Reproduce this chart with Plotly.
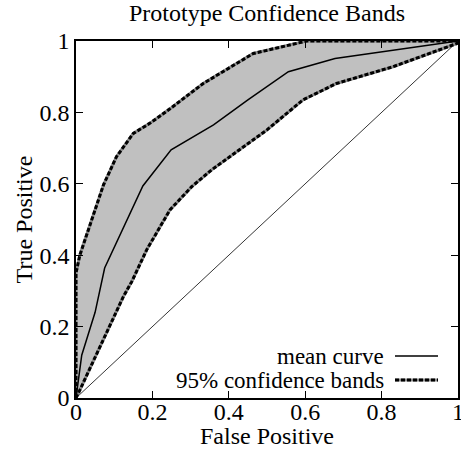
import plotly.graph_objects as go

# Mean ROC curve
mean_fp = [0.0, 0.015, 0.05, 0.075, 0.175, 0.249, 0.36, 0.45, 0.556, 0.678, 1.0]
mean_tp = [0.0, 0.12, 0.24, 0.364, 0.594, 0.695, 0.765, 0.835, 0.914, 0.951, 1.0]

# Upper 95% band
upper_fp = [0.0, 0.0, 0.01, 0.045, 0.072, 0.106, 0.15, 0.194, 0.246, 0.333, 0.464, 0.604, 1.0]
upper_tp = [0.0, 0.35, 0.40, 0.508, 0.597, 0.676, 0.741, 0.77, 0.81, 0.881, 0.965, 1.0, 1.0]

# Lower 95% band
lower_fp = [0.0, 0.01, 0.124, 0.146, 0.185, 0.246, 0.303, 0.355, 0.5, 0.594, 0.682, 0.83, 0.997, 1.0]
lower_tp = [0.0, 0.022, 0.284, 0.326, 0.415, 0.527, 0.592, 0.639, 0.751, 0.835, 0.881, 0.928, 0.993, 1.0]

diag = [0.0, 1.0]
ticks = [0, 0.2, 0.4, 0.6, 0.8, 1]
tick_text = ["0", "0.2", "0.4", "0.6", "0.8", "1"]

FONT = "Liberation Serif"
FS = 24
fig = go.Figure()

# shaded band
fig.add_trace(go.Scatter(
    x=upper_fp + lower_fp[::-1], y=upper_tp + lower_tp[::-1],
    fill="toself", fillcolor="#c0c0c0", line=dict(width=0), mode="lines",
    showlegend=False, hoverinfo="skip"))

# diagonal
fig.add_trace(go.Scatter(x=diag, y=diag, mode="lines",
                         line=dict(color="black", width=0.8), showlegend=False))

BAND_BASE = dict(color="#8c8c8c", width=3)
BAND_DASH = dict(color="black", width=3, dash="4px,2px")

# band edges
for fx, fy in [(upper_fp, upper_tp), (lower_fp, lower_tp)]:
    fig.add_trace(go.Scatter(x=fx, y=fy, mode="lines", line=BAND_BASE, showlegend=False))
    fig.add_trace(go.Scatter(x=fx, y=fy, mode="lines", line=BAND_DASH, showlegend=False))

# mean curve
fig.add_trace(go.Scatter(x=mean_fp, y=mean_tp, mode="lines",
                         line=dict(color="black", width=1.5), showlegend=False))

W, H = 461, 449
L, R, T, B = 76, 3, 41, 51
pw, ph = W - L - R, H - T - B

def px(x):
    return (x - L) / pw

def py(y):
    return (H - B - y) / ph

# legend (text right aligned, sample to the right)
legend_items = [("mean curve", 356, False), ("95% confidence bands", 380, True)]
for text, yy, band in legend_items:
    fig.add_annotation(x=px(386), y=py(yy), xref="paper", yref="paper",
                       text=text, showarrow=False, xanchor="right", yanchor="middle",
                       font=dict(family=FONT, size=23, color="black"))
    if band:
        for st in (BAND_BASE, BAND_DASH):
            fig.add_shape(type="line", xref="paper", yref="paper",
                          x0=px(395), x1=px(438), y0=py(yy), y1=py(yy), line=st)
    else:
        fig.add_shape(type="line", xref="paper", yref="paper",
                      x0=px(395), x1=px(438), y0=py(yy), y1=py(yy),
                      line=dict(color="black", width=1.5))

axis_common = dict(range=[0, 1], tickvals=ticks, ticktext=tick_text,
                   ticks="inside", ticklen=7, tickwidth=1, tickcolor="black",
                   showline=True, linecolor="black", linewidth=1.5, mirror="ticks",
                   showgrid=False, zeroline=False, automargin=False,
                   ticklabeloverflow="allow",
                   tickfont=dict(family=FONT, size=FS, color="black"))

fig.update_xaxes(**axis_common, ticklabelstandoff=-9,
                 title=dict(text="False Positive", standoff=0,
                            font=dict(family=FONT, size=FS, color="black")))
fig.update_yaxes(**axis_common,
                 title=dict(text="True Positive", standoff=0,
                            font=dict(family=FONT, size=FS, color="black")))

fig.update_layout(
    width=W, height=H,
    margin=dict(l=L, r=R, t=T, b=B, autoexpand=False),
    paper_bgcolor="white", plot_bgcolor="white",
    title=dict(text="Prototype Confidence Bands", x=(L + pw / 2) / W, xanchor="center",
               y=1 - 13 / H, yanchor="middle",
               font=dict(family=FONT, size=FS, color="black")),
    showlegend=False,
)

fig.write_html("out.html", config={"displayModeBar": False},
               post_script="document.body.style.margin='0';document.body.style.overflow='hidden';")
